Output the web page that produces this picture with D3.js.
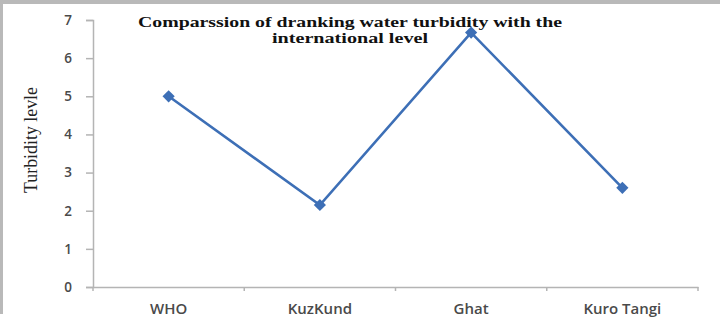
<!DOCTYPE html>
<html>
<head>
<meta charset="utf-8">
<script src="https://cdn.jsdelivr.net/npm/d3@7"></script>
<style>
  body { margin: 0; background: #fff; }
  svg { display: block; }
</style>
</head>
<body>
<div id="line-chart"></div>
<script>
// chart values
const categories = ["WHO", "KuzKund", "Ghat", "Kuro Tangi"];
const turbidity = [5.0, 2.15, 6.67, 2.6];
const yTicks = [0, 1, 2, 3, 4, 5, 6, 7];
const titleLines = ["Comparssion of dranking water turbidity with the", "international level"];
const yAxisLabel = "Turbidity levle";

const width = 720;
const height = 324;
const margin = {top: 20, right: 22, bottom: 37, left: 93};
const innerW = width - margin.left - margin.right;
const innerH = height - margin.top - margin.bottom;

const lineColor = "#3d6fb6";
const axisColor = "#b4b4b4";
const labelColor = "#4a4a4a";

const svg = d3.select("#line-chart")
  .append("svg")
  .attr("width", width)
  .attr("height", height);

// grey frame edges (top and left) like the cropped screenshot
svg.append("rect").attr("x", 0).attr("y", 0).attr("width", width).attr("height", 4).attr("fill", "#b9b9b9");
svg.append("rect").attr("x", 0).attr("y", 0).attr("width", 3).attr("height", 314).attr("fill", "#b9b9b9");

const g = svg.append("g")
  .attr("transform", `translate(${margin.left}, ${margin.top})`);

const xScale = d3.scaleBand()
  .domain(categories)
  .range([0, innerW]);

const yScale = d3.scaleLinear()
  .domain([0, 7])
  .range([innerH, 0]);

// y axis
const yAxisG = g.append("g")
  .call(d3.axisLeft(yScale).tickValues(yTicks).tickSize(7).tickPadding(14).tickFormat(d3.format("d")));
yAxisG.select(".domain").attr("stroke", axisColor).attr("stroke-width", 1.5);
yAxisG.selectAll(".tick line").attr("stroke", axisColor).attr("stroke-width", 1.5);
yAxisG.selectAll(".tick text")
  .attr("fill", labelColor)
  .style("font-family", "'Open Sans', sans-serif")
  .style("font-size", "13.5px")
  .style("font-weight", "600");

// x axis with ticks on the category boundaries
const xAxisG = g.append("g")
  .attr("transform", `translate(0, ${innerH})`)
  .call(d3.axisBottom(xScale).tickSize(0).tickPadding(16));
xAxisG.select(".domain").attr("stroke", axisColor).attr("stroke-width", 1.5);
xAxisG.selectAll(".tick text")
  .attr("fill", labelColor)
  .style("font-family", "'Open Sans', sans-serif")
  .style("font-size", "15px")
  .style("font-weight", "600");

const boundaries = categories.map(c => xScale(c)).concat([innerW]);
xAxisG.selectAll("line.bound")
  .data(boundaries)
  .enter().append("line")
  .attr("class", "bound")
  .attr("x1", d => d).attr("x2", d => d)
  .attr("y1", 0).attr("y2", 4)
  .attr("stroke", axisColor)
  .attr("stroke-width", 1.5);

// the data line
const xPos = d => xScale(d.cat) + xScale.bandwidth() / 2;
const points = categories.map((c, i) => ({cat: c, value: turbidity[i]}));

g.append("path")
  .datum(points)
  .attr("fill", "none")
  .attr("stroke", lineColor)
  .attr("stroke-width", 2.6)
  .attr("d", d3.line()
    .x(xPos)
    .y(d => yScale(d.value)));

g.selectAll("path.marker")
  .data(points)
  .enter().append("path")
  .attr("class", "marker")
  .attr("transform", d => `translate(${xPos(d)}, ${yScale(d.value)})`)
  .attr("d", d3.symbol().type(d3.symbolDiamond2).size(95))
  .attr("fill", lineColor);

// title
svg.selectAll("text.title")
  .data(titleLines)
  .enter().append("text")
  .attr("class", "title")
  .attr("x", 350)
  .attr("y", (d, i) => 27 + i * 16)
  .attr("text-anchor", "middle")
  .style("font-family", "'Liberation Serif', serif")
  .style("font-weight", "bold")
  .style("font-size", "14.5px")
  .attr("textLength", (d, i) => i === 0 ? 424 : 156)
  .attr("lengthAdjust", "spacingAndGlyphs")
  .attr("fill", "#111")
  .text(d => d);

// y axis label
svg.append("text")
  .attr("transform", "translate(37, 140) rotate(-90)")
  .attr("text-anchor", "middle")
  .style("font-family", "'Liberation Serif', serif")
  .style("font-size", "19px")
  .attr("textLength", 106)
  .attr("lengthAdjust", "spacingAndGlyphs")
  .attr("fill", "#222")
  .text(yAxisLabel);
</script>
</body>
</html>
